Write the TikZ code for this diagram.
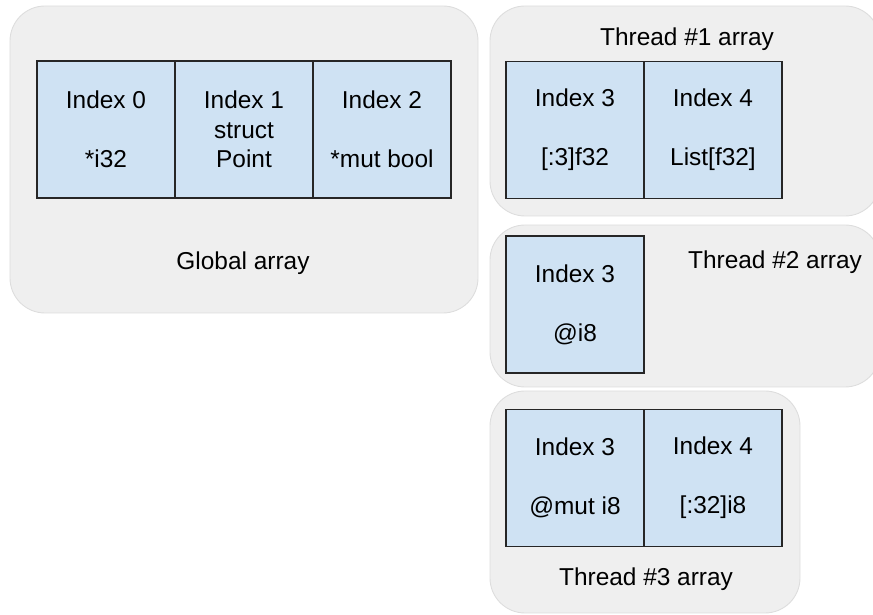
\documentclass[tikz,border=0pt]{standalone}
\usepackage{fontspec}
\setmainfont{Liberation Sans}
\usetikzlibrary{positioning}
\definecolor{panelgray}{HTML}{EFEFEF}
\definecolor{paneledge}{HTML}{DDDDDD}
\definecolor{slotblue}{HTML}{CFE2F3}
\newcommand{\slotfont}{\fontsize{13.9pt}{16.8pt}\selectfont}

\tikzset{
  panel/.style={fill=panelgray, draw=paneledge, line width=0.5pt, rounded corners=0.7cm},
  slot/.style={draw=black!85, fill=slotblue, line width=0.6pt, inner sep=0pt, outer sep=0pt,
    minimum width=2.76cm, minimum height=2.74cm, align=center, font=\slotfont},
  caption/.style={inner sep=0pt, font=\slotfont}
}

\begin{document}
\begin{tikzpicture}
  \clip (0,0) rectangle (17.46,12.3);
  % grey panels, one per array
  \draw[panel] (0.2,6.04) rectangle (9.56,12.18);
  \draw[panel] (9.8,7.98) rectangle (17.6,12.18);
  \draw[panel] (9.8,4.56) rectangle (17.6,7.8);
  \draw[panel] (9.8,0.04) rectangle (16.0,4.48);

  % global array
  \node[slot] (g0) at (2.12,9.71) {Index 0\\~\\{*}i32};
  \node[slot, right=0pt of g0] (g1) {Index 1\\struct\\Point};
  \node[slot, right=0pt of g1] (g2) {Index 2\\~\\{*}mut bool};
  \node[caption] (gcap) at (4.86,7.04) {Global array};

  % thread #1
  \node[caption] (t1cap) at (13.74,11.52) {Thread \#1 array};
  \node[slot] (a3) at (11.50,9.70) {Index 3\\~\\{[}:3]f32};
  \node[slot, right=0pt of a3] (a4) {Index 4\\~\\List[f32]};

  % thread #2
  \node[slot] (b3) at (11.50,6.21) {Index 3\\~\\@i8};
  \node[caption] (t2cap) at (15.5,7.06) {Thread \#2 array};

  % thread #3
  \node[slot] (c3) at (11.50,2.74) {Index 3\\~\\@mut i8};
  \node[slot, right=0pt of c3] (c4) {Index 4\\~\\{[}:32]i8};
  \node[caption] (t3cap) at (12.92,0.72) {Thread \#3 array};
\end{tikzpicture}
\end{document}
